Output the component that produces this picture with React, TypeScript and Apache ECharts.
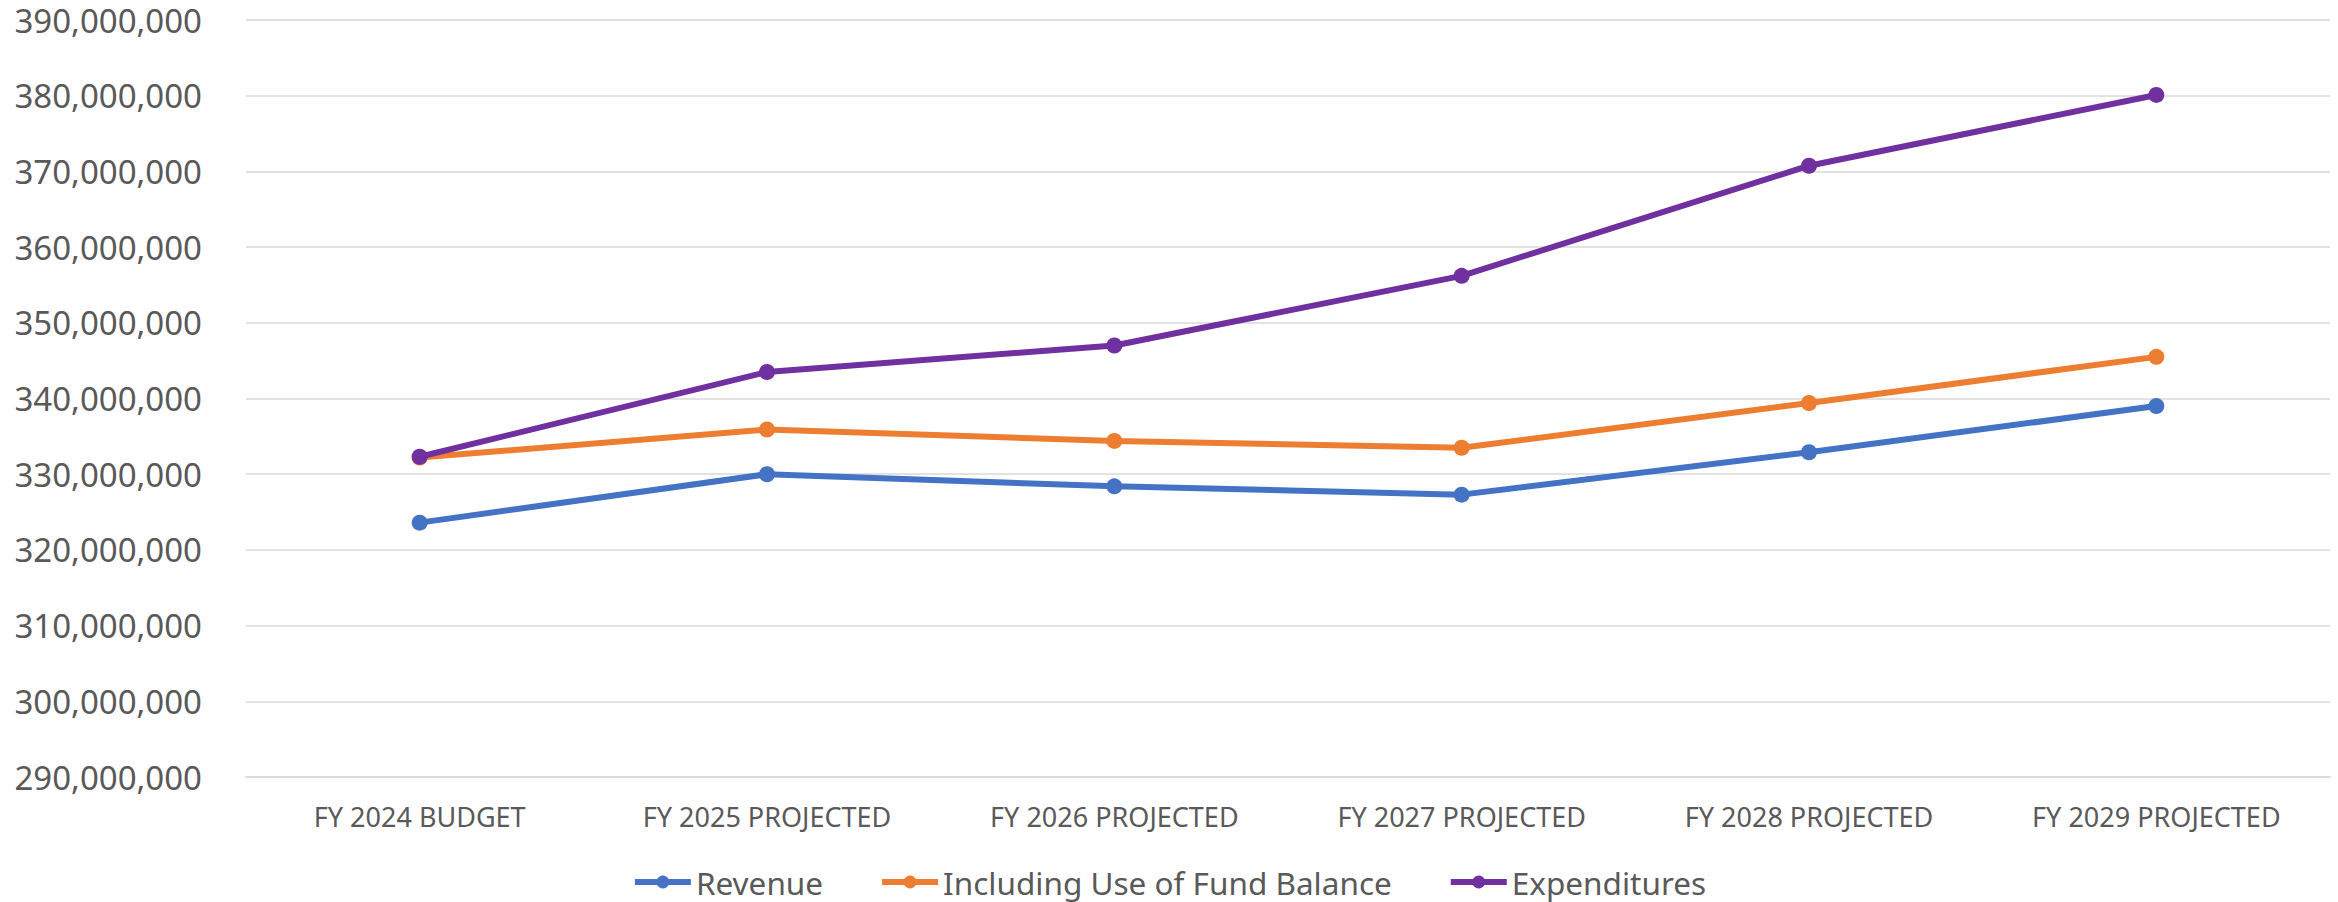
import React, { useEffect, useRef } from "react";
import * as echarts from "echarts";

const categories = [
  "FY 2024 BUDGET",
  "FY 2025 PROJECTED",
  "FY 2026 PROJECTED",
  "FY 2027 PROJECTED",
  "FY 2028 PROJECTED",
  "FY 2029 PROJECTED",
];

const revenue = [323600000, 330000000, 328400000, 327300000, 332900000, 339000000];
const includingFundBalance = [332200000, 335900000, 334400000, 333500000, 339400000, 345500000];
const expenditures = [332300000, 343500000, 347000000, 356200000, 370750000, 380100000];

const seriesNames = ["Revenue", "Including Use of Fund Balance", "Expenditures"];
const seriesColors = ["#4472C4", "#ED7D31", "#7030A0"];

const FONT = "'Noto Sans', sans-serif";

export default function App() {
  const ref = useRef<HTMLDivElement>(null);

  useEffect(() => {
    if (!ref.current) return;
    const chart = echarts.init(ref.current, undefined, { renderer: "svg" });
    const data = [revenue, includingFundBalance, expenditures];
    chart.setOption({
      animation: false,
      backgroundColor: "#ffffff",
      textStyle: { fontFamily: FONT },
      grid: { left: 246, right: 8, top: 20, bottom: 125, containLabel: false },
      legend: {
        data: seriesNames,
        left: "center",
        top: 861,
        itemWidth: 56,
        itemHeight: 16,
        itemGap: 56,
        lineStyle: { width: 6 },
        textStyle: { fontFamily: FONT, fontSize: 31.5, color: "#595959" },
      },
      xAxis: {
        type: "category",
        data: categories,
        boundaryGap: true,
        axisLine: { show: true, lineStyle: { color: "#D9D9D9", width: 1.5 } },
        axisTick: { show: false },
        axisLabel: {
          fontFamily: FONT,
          fontSize: 27,
          color: "#595959",
          margin: 26,
          interval: 0,
        },
      },
      yAxis: {
        type: "value",
        min: 290000000,
        max: 390000000,
        interval: 10000000,
        axisLine: { show: false },
        axisTick: { show: false },
        splitLine: { show: true, lineStyle: { color: "#D9D9D9", width: 1.5 } },
        axisLabel: {
          fontFamily: FONT,
          fontSize: 33,
          lineHeight: 30,
          color: "#595959",
          margin: 44,
          formatter: (v: number) => v.toLocaleString("en-US"),
        },
      },
      series: seriesNames.map((name, i) => ({
        name,
        type: "line",
        data: data[i],
        symbol: "circle",
        symbolSize: 16,
        showSymbol: true,
        lineStyle: { width: 6, color: seriesColors[i] },
        itemStyle: { color: seriesColors[i] },
        z: 2 + i,
      })),
    });
    return () => chart.dispose();
  }, []);

  return (
    <div
      ref={ref}
      style={{ position: "absolute", left: 0, top: 0, width: 2338, height: 902 }}
    />
  );
}
